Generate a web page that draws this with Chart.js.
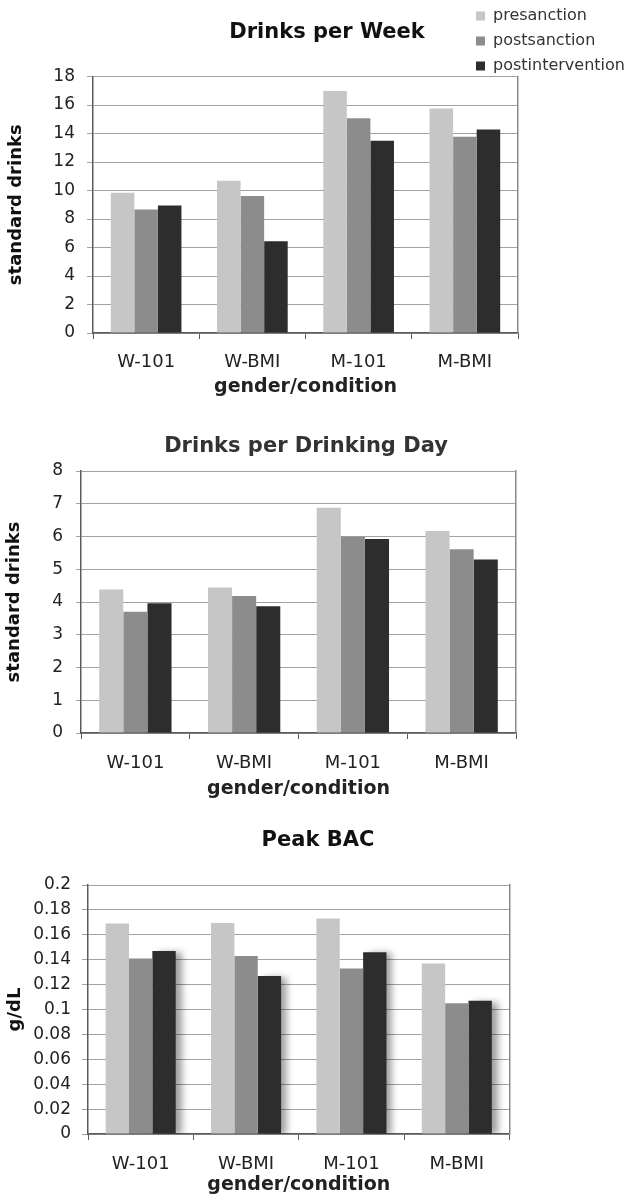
<!DOCTYPE html>
<html>
<head>
<meta charset="utf-8">
<title>Drinking outcomes</title>
<script src="https://cdn.jsdelivr.net/npm/chart.js@4.4.1/dist/chart.umd.min.js"></script>
<style>
  body { margin: 0; background: #fff; }
  canvas { display: block; }
</style>
</head>
<body>
<canvas id="weekChart" width="629" height="400"></canvas>
<canvas id="dayChart" width="629" height="400"></canvas>
<canvas id="bacChart" width="629" height="399"></canvas>
<script>
// ---------------------------
// DATA
// ---------------------------
const categories = ['W-101', 'W-BMI', 'M-101', 'M-BMI'];
const seriesNames = ['presanction', 'postsanction', 'postintervention'];

// drinks per week (standard drinks)
const weekPre = [9.84, 10.69, 16.99, 15.75];
const weekPost = [8.67, 9.61, 15.07, 13.78];
const weekInt = [8.95, 6.44, 13.50, 14.28];
const weekAxis = [0, 18, 2]; // min, max, step

// drinks per drinking day
const dayPre = [4.38, 4.44, 6.88, 6.17];
const dayPost = [3.70, 4.18, 5.99, 5.61];
const dayInt = [3.96, 3.87, 5.92, 5.30];
const dayAxis = [0, 8, 1];

// peak BAC (g/dL)
const bacPre = [0.169, 0.1695, 0.173, 0.137];
const bacPost = [0.141, 0.143, 0.133, 0.105];
const bacInt = [0.147, 0.127, 0.146, 0.107];
const bacAxis = [0, 0.2, 0.02];

// ---------------------------
// STYLE
// ---------------------------
const barColors = ['#c6c6c6', '#8c8c8c', '#2d2d2d'];
const FONT = "'DejaVu Sans', Verdana, sans-serif";
const gridColor = '#a2a2a2';
const axisColor = '#5a5a5a';
const TITLE_SIZE = 21;

// moves title / legend after layout (Excel-style placement)
const nudge = {
  id: 'nudge',
  afterLayout(chart, args, opts) {
    if (opts.titleX != null && chart.titleBlock) {
      const t = chart.titleBlock;
      const w = t.right - t.left;
      t.left = opts.titleX - w / 2;
      t.right = opts.titleX + w / 2;
    }
    if (opts.legendX != null && chart.legend) {
      const lg = chart.legend;
      lg.left = opts.legendX;
      lg.right = chart.width;
      lg.width = chart.width - opts.legendX;
      lg.top = opts.legendY;
      lg.bottom = opts.legendY + 120;
      lg.height = 120;
    }
  },
  beforeDatasetDraw(chart, args, opts) {
    if (!opts.shadow) return;
    const ctx = chart.ctx;
    ctx.save();
    if (args.index === 2) {
      ctx.shadowColor = 'rgba(0,0,0,0.38)';
      ctx.shadowBlur = 7;
      ctx.shadowOffsetX = 6;
      ctx.shadowOffsetY = 1;
    }
  },
  afterDatasetDraw(chart, args, opts) {
    if (!opts.shadow) return;
    chart.ctx.restore();
  }
};

function makeChart(id, cfg) {
  const ctx = document.getElementById(id).getContext('2d');
  const canvasH = ctx.canvas.height;
  const g = cfg.geom;
  const lh = TITLE_SIZE * 1.2;

  return new Chart(ctx, {
    type: 'bar',
    data: {
      labels: categories,
      datasets: cfg.series.map((values, i) => ({
        label: seriesNames[i],
        data: values,
        backgroundColor: barColors[i],
        borderWidth: 0,
        categoryPercentage: 0.665,
        barPercentage: 1
      }))
    },
    plugins: [nudge],
    options: {
      responsive: false,
      animation: false,
      devicePixelRatio: 1,
      layout: { padding: { left: 0, right: 629 - g.right, top: 0, bottom: 0 } },
      plugins: {
        tooltip: { enabled: false },
        title: {
          display: true,
          text: cfg.title,
          color: cfg.titleColor,
          font: { family: FONT, size: TITLE_SIZE, weight: 'bold', lineHeight: 1.2 },
          padding: { top: g.titleY - lh / 2, bottom: g.top - (g.titleY - lh / 2) - lh }
        },
        legend: cfg.legend ? {
          display: true,
          position: 'chartArea',
          align: 'start',
          labels: {
            color: '#333',
            font: { family: FONT, size: 16 },
            boxWidth: 9,
            boxHeight: 9,
            padding: 9
          }
        } : { display: false },
        nudge: {
          titleX: g.titleX,
          legendX: cfg.legend ? 467 : null,
          legendY: -1,
          shadow: !!cfg.shadow
        }
      },
      scales: {
        x: {
          grid: {
            display: true,
            offset: true,
            drawOnChartArea: false,
            drawTicks: true,
            tickLength: 6,
            color: axisColor
          },
          border: { display: true, color: axisColor, width: 1.5 },
          ticks: {
            color: '#222',
            padding: g.xPad,
            font: { family: FONT, size: 18 }
          },
          title: {
            display: true,
            text: 'gender/condition',
            color: '#222',
            font: { family: FONT, size: 19, weight: 'bold', lineHeight: 1.2 },
            padding: { top: 0, bottom: g.xTitlePad }
          },
          afterFit: s => { s.height = canvasH - g.bottom; }
        },
        y: {
          min: cfg.axis[0],
          max: cfg.axis[1],
          grid: {
            color: gridColor,
            lineWidth: 1,
            drawTicks: true,
            tickLength: g.yTick
          },
          border: { display: true, color: axisColor, width: 1.5 },
          ticks: {
            stepSize: cfg.axis[2],
            color: '#222',
            padding: g.yPad,
            font: { family: FONT, size: 17 },
            callback: v => String(+v.toFixed(2))
          },
          title: {
            display: true,
            text: cfg.yTitle,
            color: '#111',
            font: { family: FONT, size: 18, weight: 'bold', lineHeight: 1.2 },
            padding: { top: g.yTitlePad, bottom: 0 }
          },
          afterFit: s => { s.width = g.left; }
        },
        frame: {
          position: 'right',
          min: 0,
          max: 1,
          grid: { display: false },
          ticks: { display: false },
          border: { display: true, color: '#8a8a8a', width: 1.5 },
          afterFit: s => { s.width = 0; }
        }
      }
    }
  });
}

// ---------------------------
// CHARTS
// ---------------------------
makeChart('weekChart', {
  title: 'Drinks per Week',
  titleColor: '#111',
  yTitle: 'standard drinks',
  series: [weekPre, weekPost, weekInt],
  axis: weekAxis,
  legend: true,
  geom: { left: 93, right: 518, top: 76.5, bottom: 333, titleX: 327, titleY: 33,
          yTick: 6, yPad: 12, xPad: 13, xTitlePad: 2, yTitlePad: 6 }
});

makeChart('dayChart', {
  title: 'Drinks per Drinking Day',
  titleColor: '#333',
  yTitle: 'standard drinks',
  series: [dayPre, dayPost, dayInt],
  axis: dayAxis,
  geom: { left: 81, right: 516, top: 71, bottom: 333, titleX: 306, titleY: 47,
          yTick: 5, yPad: 13, xPad: 14, xTitlePad: 0, yTitlePad: 4 }
});

makeChart('bacChart', {
  title: 'Peak BAC',
  titleColor: '#111',
  yTitle: 'g/dL',
  series: [bacPre, bacPost, bacInt],
  axis: bacAxis,
  shadow: true,
  geom: { left: 88, right: 509.5, top: 85, bottom: 334, titleX: 318, titleY: 41,
          yTick: 6, yPad: 11, xPad: 14, xTitlePad: 3, yTitlePad: 5 }
});
</script>
</body>
</html>
